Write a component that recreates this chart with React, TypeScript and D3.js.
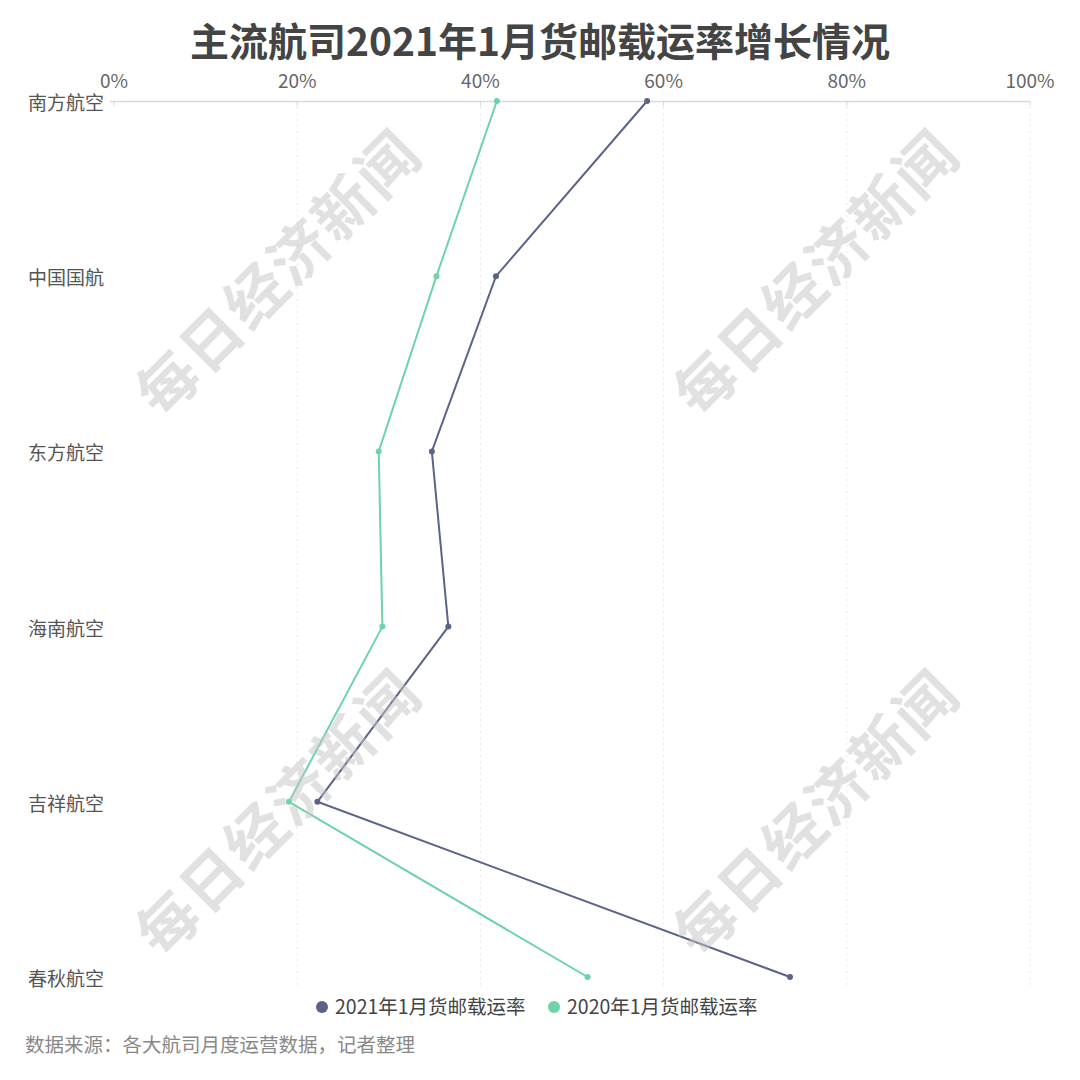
import React from "react";
import * as d3 from "d3";

const airlines = ["南方航空", "中国国航", "东方航空", "海南航空", "吉祥航空", "春秋航空"];
const rate2021 = [58.2, 41.7, 34.7, 36.5, 22.2, 73.8];
const rate2020 = [41.8, 35.2, 28.9, 29.3, 19.1, 51.7];
const seriesNames = ["2021年1月货邮载运率", "2020年1月货邮载运率"];
const seriesColors = ["#5b6389", "#6dd3a9"];
const xTicks = [0, 20, 40, 60, 80, 100];
const watermarkText = "每日经济新闻";

const W = 1080;
const H = 1080;
const FONT = "'Noto Sans CJK SC', 'Noto Sans', sans-serif";

const App: React.FC = () => {
  const x = d3.scaleLinear().domain([0, 100]).range([114, 1030]);
  const y = d3.scalePoint<string>().domain(airlines).range([101, 977]);

  const line = d3
    .line<number>()
    .x((d) => x(d))
    .y((_, i) => y(airlines[i])!);

  const series = [rate2021, rate2020];
  const wmCenters = [
    [275, 270],
    [813, 270],
    [275, 810],
    [813, 810],
  ];

  return (
    <svg
      width={W}
      height={H}
      style={{ position: "absolute", left: 0, top: 0, background: "#fff" }}
      fontFamily={FONT}
    >
      <text
        x={540}
        y={56}
        textAnchor="middle"
        fontSize={39}
        fontWeight="bold"
        fill="#444"
      >
        主流航司2021年1月货邮载运率增长情况
      </text>

      {/* grid */}
      {xTicks.slice(1).map((t) => (
        <line
          key={"g" + t}
          x1={x(t)}
          x2={x(t)}
          y1={101}
          y2={985}
          stroke="#e8e8e8"
          strokeDasharray="2,4"
        />
      ))}

      {/* top axis */}
      <line x1={110} x2={1030} y1={101.5} y2={101.5} stroke="#d9d9d9" strokeWidth={1.5} />
      {xTicks.map((t) => (
        <g key={"t" + t}>
          <line x1={x(t)} x2={x(t)} y1={101} y2={106} stroke="#d9d9d9" />
          <text x={x(t)} y={88} textAnchor="middle" fontSize={19} fill="#666">
            {t}%
          </text>
        </g>
      ))}

      {airlines.map((a) => (
        <text key={a} x={104} y={y(a)! + 9} textAnchor="end" fontSize={19} fill="#555">
          {a}
        </text>
      ))}

      {series.map((s, k) => (
        <g key={"s" + k}>
          <path d={line(s)!} fill="none" stroke={seriesColors[k]} strokeWidth={2} />
          {s.map((v, i) => (
            <circle key={i} cx={x(v)} cy={y(airlines[i])!} r={3} fill={seriesColors[k]} />
          ))}
        </g>
      ))}

      {/* watermarks */}
      {wmCenters.map(([cx, cy], i) => (
        <text
          key={"w" + i}
          x={cx}
          y={cy}
          transform={`rotate(-45 ${cx} ${cy})`}
          textAnchor="middle"
          dominantBaseline="central"
          fontSize={60}
          fontWeight="bold"
          fill="#c4c4c4"
          fillOpacity={0.5}
          letterSpacing={2}
        >
          {watermarkText}
        </text>
      ))}

      {/* legend */}
      <g>
        <circle cx={322} cy={1007} r={6} fill={seriesColors[0]} />
        <text x={335} y={1014} fontSize={19.5} fill="#444">
          {seriesNames[0]}
        </text>
        <circle cx={554} cy={1007} r={6} fill={seriesColors[1]} />
        <text x={567} y={1014} fontSize={19.5} fill="#444">
          {seriesNames[1]}
        </text>
      </g>

      <text x={25} y={1052} fontSize={19.5} fill="#888">
        数据来源：各大航司月度运营数据，记者整理
      </text>
    </svg>
  );
};

export default App;
